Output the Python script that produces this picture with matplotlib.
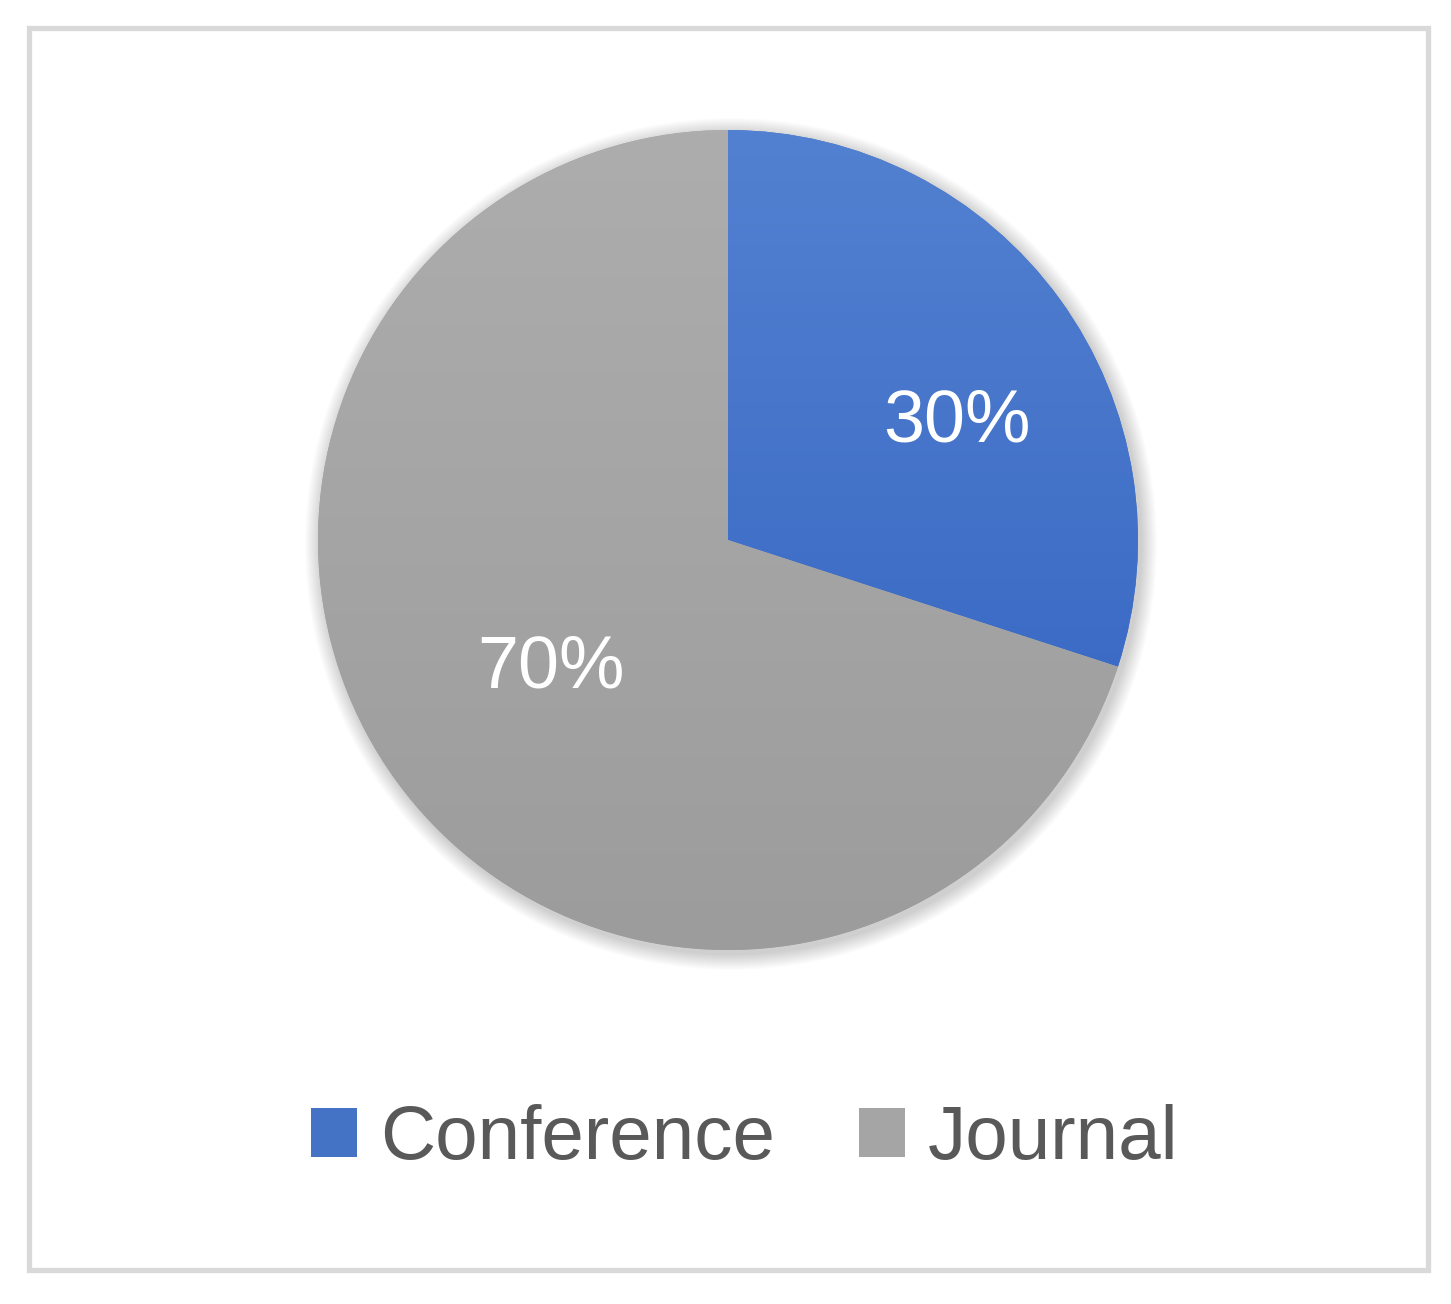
"""
Pie chart: share of conference vs journal publications
"""

import matplotlib.pyplot as plt
import numpy as np
from matplotlib.patches import Rectangle, Circle
from matplotlib.colors import LinearSegmentedColormap

# data
labels = ['Conference', 'Journal']
shares = [30, 70]

# colours (flat + gradient ends)
COLORS = ['#4472C4', '#A5A5A5']
GRAD_TOP = ['#5381D1', '#ADADAD']
GRAD_BOTTOM = ['#2F60BF', '#9C9C9C']
TEXT_GREY = '#595959'

plt.rcParams['font.family'] = ['Liberation Sans', 'DejaVu Sans']

W, H = 1451, 1304
fig = plt.figure(figsize=(W / 100, H / 100), dpi=100)
ax = fig.add_axes([0, 0, 1, 1])

cx, cy, R = 728, H - 540, 410

# soft shadow behind the pie
for k in range(16):
    ax.add_patch(Circle((cx + 3, cy - 4), R + 16 - k, facecolor='black',
                        edgecolor='none', alpha=0.012, zorder=0))

wedges, _ = ax.pie(shares, startangle=90, counterclock=False, colors=COLORS,
                   center=(cx, cy), radius=R)

# vertical gradient fill clipped to each wedge
grad = np.linspace(0, 1, 256).reshape(-1, 1)
for w, c0, c1 in zip(wedges, GRAD_TOP, GRAD_BOTTOM):
    cmap = LinearSegmentedColormap.from_list('g', [c1, c0])
    im = ax.imshow(grad, cmap=cmap, origin='lower', aspect='auto',
                   extent=(cx - R, cx + R, cy - R, cy + R), zorder=2)
    im.set_clip_path(w)

# percentage labels
label_pos = [(957, H - 422), (551, H - 668)]
for v, (x, y) in zip(shares, label_pos):
    ax.text(x, y, f'{v}%', ha='center', va='center', color='white',
            fontsize=53, zorder=5)

# outer frame
ax.add_patch(Rectangle((29, H - 1270), 1399, 1242, fill=False,
                       edgecolor='#D9D9D9', linewidth=3.8, zorder=1))

ax.set_xlim(0, W)
ax.set_ylim(0, H)
ax.set_aspect('auto')
ax.axis('off')

ax.legend(wedges, labels, loc='center', ncol=2, frameon=False,
          bbox_to_anchor=(745 / W, (H - 1140) / H), bbox_transform=fig.transFigure,
          fontsize=55, handlelength=0.6, handleheight=0.6, handletextpad=0.3,
          columnspacing=1.1, labelcolor=TEXT_GREY)

fig.savefig('out.png', dpi=100)
